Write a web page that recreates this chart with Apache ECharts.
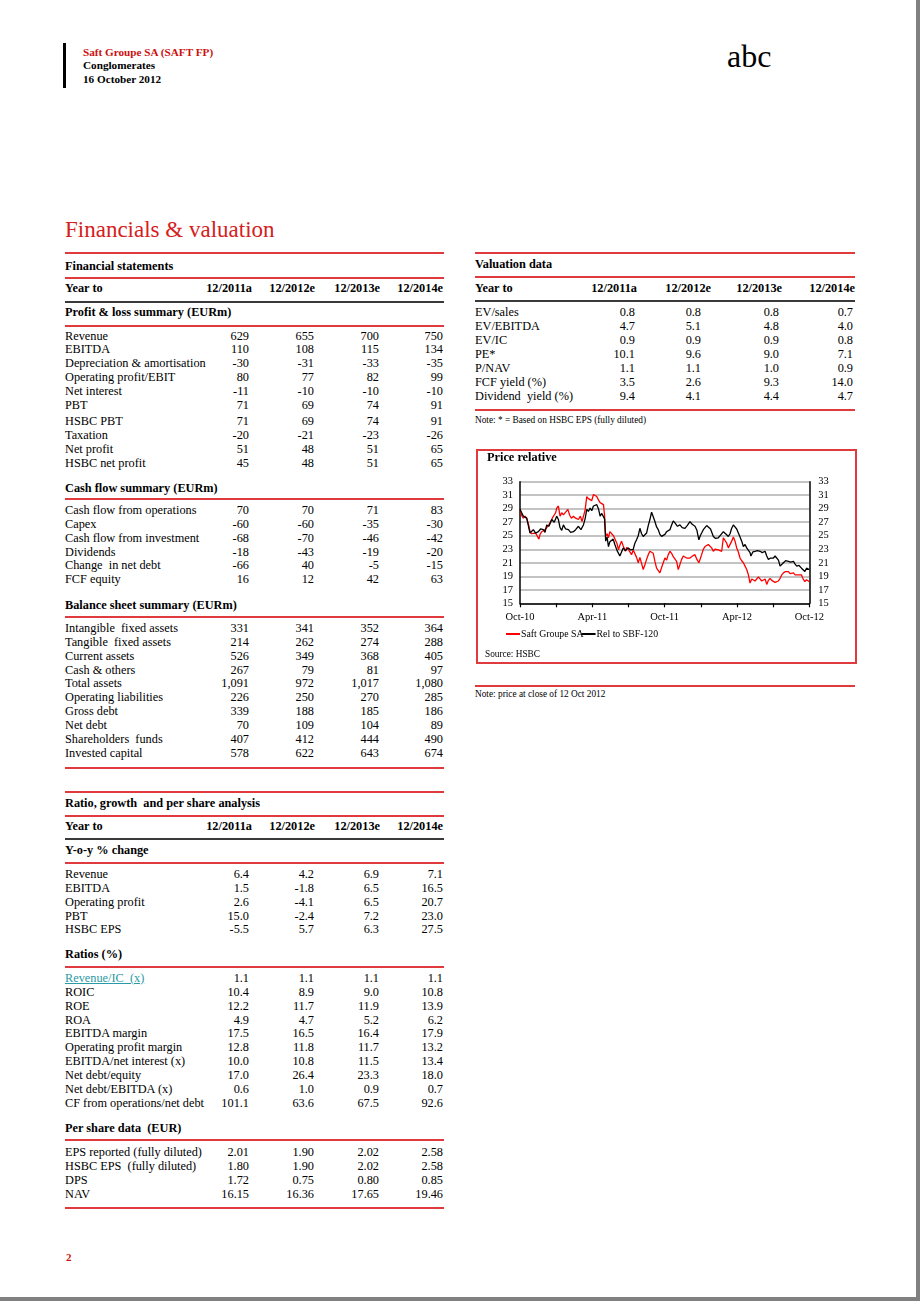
<!DOCTYPE html>
<html>
<head>
<meta charset="utf-8">
<script src="https://cdn.jsdelivr.net/npm/echarts@6/dist/echarts.min.js"></script>
<style>
  html, body { margin: 0; padding: 0; background: #fff; }
  #page { position: relative; width: 920px; height: 1301px; overflow: hidden; background: #fff;
          font-family: "Liberation Serif", "Times New Roman", serif; color: #000; }
  .t { position: absolute; white-space: pre; }
  .r { text-align: right; }
  .hl { position: absolute; }
  #priceBox { position: absolute; left: 476px; top: 449px; width: 377px; height: 211px; border: 2px solid #e03a3e; }
  #myCharts { position: absolute; left: 477px; top: 450px; width: 379px; height: 212px; }
</style>
</head>
<body>
<div id="page">
  <div id="priceBox"></div>
  <div id="myCharts"></div>
</div>
<script>
// price relative chart data: [week since Oct-10, value]
const tickLabels = ['Oct-10', 'Apr-11', 'Oct-11', 'Apr-12', 'Oct-12'];
const seriesNames = ['Saft Groupe SA', 'Rel to SBF-120'];
const saftPrice = [
  [0,28.9],[0.6,28.0],[1.2,27.6],[1.8,27.9],[2.4,27.6],[3.0,26.8],[3.6,25.6],[4.2,25.3],[4.8,25.1],[5.6,25.4],
  [6.0,25.6],[6.8,24.5],[7.2,25.2],[7.8,25.6],[8.4,25.7],[9.0,25.9],[9.6,26.2],[10.2,26.5],[10.8,26.9],[11.6,27.6],
  [12.3,27.4],[12.8,28.4],[13.2,29.1],[13.8,29.4],[14.4,27.9],[15.0,28.4],[15.6,28.1],[16.4,28.5],[17.2,28.9],[17.9,28.0],
  [18.5,27.6],[19.2,27.9],[20.0,27.6],[21.0,27.4],[21.7,27.9],[22.3,27.1],[22.8,27.1],[23.4,28.8],[24.0,30.8],[24.6,30.5],
  [25.2,30.6],[25.8,30.2],[26.4,31.1],[27.0,31.3],[27.6,30.8],[28.2,30.3],[28.8,29.9],[29.4,29.8],[30.0,29.6],[30.4,28.0],
  [30.8,24.9],[31.3,25.3],[31.8,24.7],[32.3,25.6],[33.0,25.4],[33.6,25.0],[34.1,24.9],[34.9,23.8],[35.4,22.9],[35.9,23.6],
  [36.5,24.2],[37.1,23.5],[37.9,22.7],[38.4,23.3],[38.9,23.2],[39.5,22.6],[40.1,22.2],[40.7,22.9],[41.3,22.9],[41.9,21.8],
  [42.5,21.0],[43.1,21.8],[43.7,22.0],[44.3,20.0],[44.9,20.7],[45.5,21.5],[46.1,22.2],[46.7,22.7],[47.3,22.6],[47.9,22.4],
  [48.5,21.2],[49.1,20.2],[49.7,20.0],[50.3,19.5],[50.9,20.3],[51.5,21.0],[52.1,21.7],[52.7,21.4],[53.3,22.2],[53.9,22.7],
  [54.5,22.4],[55.1,21.9],[55.7,21.7],[56.3,21.2],[56.9,20.0],[57.5,20.1],[58.1,21.5],[58.7,22.0],[59.3,21.9],[59.9,21.7],
  [60.5,21.8],[61.1,21.7],[62.0,22.0],[62.9,22.2],[63.6,21.5],[64.3,21.0],[64.8,21.6],[65.3,22.2],[65.9,23.0],[66.5,23.4],
  [67.1,23.6],[67.7,23.7],[68.3,23.9],[68.9,23.2],[69.5,22.7],[70.1,23.0],[70.7,22.8],[71.3,22.9],[71.9,22.8],[72.5,22.7],
  [73.1,24.7],[73.7,24.3],[74.3,23.9],[74.9,23.2],[75.5,23.0],[76.1,24.2],[76.7,24.8],[77.3,24.2],[77.9,23.2],[78.5,22.6],
  [79.1,21.7],[79.7,21.3],[80.3,21.0],[80.9,20.5],[81.5,20.0],[82.1,19.2],[82.7,18.0],[83.3,18.6],[83.9,18.7],[84.5,18.3],
  [85.1,18.5],[85.7,18.9],[86.3,18.7],[86.9,18.3],[87.5,18.5],[88.1,18.6],[88.7,17.8],[89.3,18.4],[89.9,18.7],[90.5,18.4],
  [91.1,18.5],[91.7,18.1],[92.3,18.0],[92.9,18.3],[93.5,18.7],[94.1,19.2],[94.7,19.5],[95.5,19.7],[96.5,19.7],[97.1,19.4],
  [97.7,19.5],[98.3,19.5],[98.9,19.2],[99.5,19.3],[100.1,19.2],[100.7,19.0],[101.2,19.2],[101.8,18.6],[102.4,18.2],[103.0,18.5],
  [103.6,18.4],[104,18.2]
];
const relPrice = [
  [0,28.9],[0.6,28.4],[1.2,27.9],[1.8,27.7],[2.4,27.6],[3.0,26.5],[3.6,25.4],[4.2,25.2],[4.8,25.9],[5.6,25.4],
  [6.6,25.6],[7.4,26.0],[8.4,25.9],[9.0,25.5],[9.6,26.6],[10.4,26.4],[11.4,27.4],[12.3,27.0],[13.2,27.9],[13.8,27.4],
  [14.4,26.2],[15.0,25.8],[15.6,26.6],[16.4,26.0],[17.4,25.9],[18.2,25.5],[19.2,25.6],[20.0,25.9],[21.0,26.4],[21.9,25.9],
  [22.8,26.6],[23.4,27.5],[24.0,28.9],[24.6,28.6],[25.2,29.1],[25.8,28.7],[26.4,29.4],[27.0,29.2],[27.6,29.6],[28.2,29.0],
  [28.8,27.9],[29.4,28.3],[30.0,28.4],[30.4,27.5],[30.8,24.2],[31.3,24.8],[31.8,23.4],[32.3,24.1],[33.0,23.9],[33.5,24.5],
  [34.1,23.7],[34.9,22.8],[35.9,22.0],[36.5,22.6],[37.1,23.2],[37.9,22.8],[38.9,23.2],[39.8,22.9],[40.7,23.0],[41.3,23.9],
  [41.9,24.4],[42.5,25.0],[43.1,26.1],[43.7,25.3],[44.3,24.9],[44.9,25.0],[45.5,25.4],[46.1,26.5],[46.7,27.4],[47.3,28.5],
  [47.9,27.8],[48.5,27.1],[49.1,26.3],[49.7,25.9],[50.3,25.2],[50.9,24.9],[51.5,25.1],[52.1,25.2],[52.7,25.6],[53.3,25.4],
  [53.9,25.9],[54.5,26.6],[55.1,27.2],[55.7,26.9],[56.6,26.4],[57.5,26.6],[58.3,26.2],[59.3,26.1],[60.1,26.5],[61.1,27.1],
  [61.9,26.7],[62.9,26.4],[63.6,25.8],[64.3,24.4],[64.8,25.0],[65.3,25.4],[65.9,25.9],[66.5,26.1],[67.1,26.5],[67.7,26.4],
  [68.5,26.0],[69.5,24.9],[70.3,24.6],[71.3,24.7],[72.1,25.1],[73.1,25.6],[73.9,25.3],[74.9,24.9],[75.5,25.3],[76.1,26.1],
  [76.7,26.6],[77.3,26.4],[77.9,26.0],[78.5,25.4],[79.1,24.8],[79.7,24.2],[80.3,23.4],[80.9,23.7],[81.5,23.2],[82.1,23.4],
  [82.7,22.5],[83.0,22.0],[83.7,22.6],[84.5,22.7],[85.4,22.8],[86.3,22.7],[87.1,22.5],[88.1,22.7],[88.7,22.0],[89.3,21.5],
  [90.1,21.7],[91.1,21.7],[91.7,22.0],[92.3,22.2],[92.9,21.4],[93.5,20.5],[94.1,20.7],[94.7,21.0],[95.5,21.3],[96.5,21.2],
  [97.3,21.1],[98.3,21.2],[98.9,20.8],[99.5,20.5],[100.3,20.6],[101.2,20.2],[101.8,20.1],[102.4,19.7],[103.0,20.2],[103.6,20.4],
  [104,20.0]
];

// tables
const years = ['12/2011a', '12/2012e', '12/2013e', '12/2014e'];
const plRowsA = [
  ['Revenue', '629', '655', '700', '750'],
  ['EBITDA', '110', '108', '115', '134'],
  ['Depreciation & amortisation', '-30', '-31', '-33', '-35'],
  ['Operating profit/EBIT', '80', '77', '82', '99'],
  ['Net interest', '-11', '-10', '-10', '-10'],
  ['PBT', '71', '69', '74', '91']
];
const plRowsB = [
  ['HSBC PBT', '71', '69', '74', '91'],
  ['Taxation', '-20', '-21', '-23', '-26'],
  ['Net profit', '51', '48', '51', '65'],
  ['HSBC net profit', '45', '48', '51', '65']
];
const cfRows = [
  ['Cash flow from operations', '70', '70', '71', '83'],
  ['Capex', '-60', '-60', '-35', '-30'],
  ['Cash flow from investment', '-68', '-70', '-46', '-42'],
  ['Dividends', '-18', '-43', '-19', '-20'],
  ['Change  in net debt', '-66', '40', '-5', '-15'],
  ['FCF equity', '16', '12', '42', '63']
];
const bsRows = [
  ['Intangible  fixed assets', '331', '341', '352', '364'],
  ['Tangible  fixed assets', '214', '262', '274', '288'],
  ['Current assets', '526', '349', '368', '405'],
  ['Cash & others', '267', '79', '81', '97'],
  ['Total assets', '1,091', '972', '1,017', '1,080'],
  ['Operating liabilities', '226', '250', '270', '285'],
  ['Gross debt', '339', '188', '185', '186'],
  ['Net debt', '70', '109', '104', '89'],
  ['Shareholders  funds', '407', '412', '444', '490'],
  ['Invested capital', '578', '622', '643', '674']
];
const yoyRows = [
  ['Revenue', '6.4', '4.2', '6.9', '7.1'],
  ['EBITDA', '1.5', '-1.8', '6.5', '16.5'],
  ['Operating profit', '2.6', '-4.1', '6.5', '20.7'],
  ['PBT', '15.0', '-2.4', '7.2', '23.0'],
  ['HSBC EPS', '-5.5', '5.7', '6.3', '27.5']
];
const ratioRows = [
  ['Revenue/IC  (x)', '1.1', '1.1', '1.1', '1.1'],
  ['ROIC', '10.4', '8.9', '9.0', '10.8'],
  ['ROE', '12.2', '11.7', '11.9', '13.9'],
  ['ROA', '4.9', '4.7', '5.2', '6.2'],
  ['EBITDA margin', '17.5', '16.5', '16.4', '17.9'],
  ['Operating profit margin', '12.8', '11.8', '11.7', '13.2'],
  ['EBITDA/net interest (x)', '10.0', '10.8', '11.5', '13.4'],
  ['Net debt/equity', '17.0', '26.4', '23.3', '18.0'],
  ['Net debt/EBITDA (x)', '0.6', '1.0', '0.9', '0.7'],
  ['CF from operations/net debt', '101.1', '63.6', '67.5', '92.6']
];
const perShareRows = [
  ['EPS reported (fully diluted)', '2.01', '1.90', '2.02', '2.58'],
  ['HSBC EPS  (fully diluted)', '1.80', '1.90', '2.02', '2.58'],
  ['DPS', '1.72', '0.75', '0.80', '0.85'],
  ['NAV', '16.15', '16.36', '17.65', '19.46']
];
const valRows = [
  ['EV/sales', '0.8', '0.8', '0.8', '0.7'],
  ['EV/EBITDA', '4.7', '5.1', '4.8', '4.0'],
  ['EV/IC', '0.9', '0.9', '0.9', '0.8'],
  ['PE*', '10.1', '9.6', '9.0', '7.1'],
  ['P/NAV', '1.1', '1.1', '1.0', '0.9'],
  ['FCF yield (%)', '3.5', '2.6', '9.3', '14.0'],
  ['Dividend  yield (%)', '9.4', '4.1', '4.4', '4.7']
];

const RED = '#e03a3e';
const DARK = '#3a3a3a';
const FS = 12.3;
const page = document.getElementById('page');

function text(str, x, y, o) {
  o = o || {};
  const fs = o.size || FS;
  const d = document.createElement('div');
  d.className = 't';
  d.textContent = str;
  d.style.fontSize = fs + 'px';
  d.style.lineHeight = fs + 'px';
  d.style.top = (y - fs / 2) + 'px';
  if (o.right) {
    d.className = 't r';
    d.style.left = (x - 200) + 'px';
    d.style.width = '200px';
  } else {
    d.style.left = x + 'px';
  }
  if (o.bold) d.style.fontWeight = 'bold';
  if (o.color) d.style.color = o.color;
  if (o.underline) d.style.textDecoration = 'underline';
  if (o.ls) d.style.letterSpacing = o.ls + 'px';
  page.appendChild(d);
}
function hline(x, y, w, color, h) {
  h = h || 2;
  const d = document.createElement('div');
  d.className = 'hl';
  d.style.left = x + 'px';
  d.style.top = (y - h / 2) + 'px';
  d.style.width = w + 'px';
  d.style.height = h + 'px';
  d.style.background = color;
  page.appendChild(d);
}
function rows(list, x0, cols, y0) {
  list.forEach(function (r, i) {
    const y = y0 + i * 13.9;
    const link = r[0].indexOf('Revenue/IC') === 0;
    text(r[0], x0, y, link ? { color: '#2a9aa6', underline: true } : {});
    for (let c = 1; c < r.length; c++) text(r[c], cols[c - 1], y, { right: true });
  });
}
function header(x0, cols, y) {
  text('Year to', x0, y, { bold: true });
  years.forEach(function (v, i) { text(v, cols[i], y, { bold: true, right: true }); });
}

// page header
const bar = document.createElement('div');
bar.className = 'hl';
bar.style.cssText = 'left:63px;top:43px;width:3px;height:45px;background:#000;';
page.appendChild(bar);
text('Saft Groupe SA (SAFT FP)', 83, 52.7, { size: 11.2, bold: true, color: '#cc1010' });
text('Conglomerates', 83, 66, { size: 11.2, bold: true });
text('16 October 2012', 83, 80, { size: 11.2, bold: true });
text('abc', 727, 56, { size: 32 });
text('Financials & valuation', 65, 229.5, { size: 23, color: '#d42020' });

// left column
const lv = [249, 314, 379, 443];
const lh = [252, 315, 380, 443];
hline(65, 253.3, 379, RED);
text('Financial statements', 65, 266.5, { bold: true });
hline(65, 277.7, 379, RED);
header(65, lh, 288);
hline(65, 301.5, 379, DARK);
text('Profit & loss summary (EURm)', 65, 312.3, { bold: true });
hline(65, 325.5, 379, RED);
rows(plRowsA, 65, lv, 335.7);
rows(plRowsB, 65, lv, 421);
text('Cash flow summary (EURm)', 65, 488, { bold: true });
hline(65, 499.3, 379, RED);
rows(cfRows, 65, lv, 510);
text('Balance sheet summary (EURm)', 65, 605, { bold: true });
hline(65, 617, 379, RED);
rows(bsRows, 65, lv, 628);
hline(65, 768, 379, RED);

hline(65, 791.5, 379, RED);
text('Ratio, growth  and per share analysis', 65, 803, { bold: true });
hline(65, 816, 379, RED);
header(65, lh, 826);
hline(65, 839, 379, DARK);
text('Y-o-y % change', 65, 850, { bold: true });
hline(65, 863, 379, RED);
rows(yoyRows, 65, lv, 874);
text('Ratios (%)', 65, 954, { bold: true });
hline(65, 966.5, 379, RED);
rows(ratioRows, 65, lv, 978);
text('Per share data  (EUR)', 65, 1128, { bold: true });
hline(65, 1140, 379, RED);
rows(perShareRows, 65, lv, 1152.3);
hline(65, 1208, 379, RED);
text('2', 66, 1257, { size: 11, bold: true, color: '#cc1010' });

// right column
const rv = [635, 701, 779, 853];
const rh = [637, 711, 782, 855];
hline(475, 253.3, 380, RED);
text('Valuation data', 475, 264.5, { bold: true });
hline(475, 277.3, 380, RED);
header(475, rh, 288.3);
hline(475, 301, 380, DARK);
rows(valRows, 475, rv, 312.3);
hline(475, 409.5, 380, RED);
text('Note: * = Based on HSBC EPS (fully diluted)', 475, 420.5, { size: 9.3 });
hline(475, 686, 380, RED);
text('Note: price at close of 12 Oct 2012', 475, 694.3, { size: 9.3 });

// page frame edge
const edgeR = document.createElement('div');
edgeR.className = 'hl';
edgeR.style.cssText = 'left:916px;top:0;width:4px;height:1301px;background:#808080;';
page.appendChild(edgeR);
const edgeB = document.createElement('div');
edgeB.className = 'hl';
edgeB.style.cssText = 'left:0;top:1297px;width:920px;height:4px;background:#808080;';
page.appendChild(edgeB);

// chart
const chart = echarts.init(document.getElementById('myCharts'));
const FONT = 'Liberation Serif';
const yAxisBase = {
  type: 'value', min: 15, max: 33, interval: 2,
  axisLine: { show: true, lineStyle: { color: '#000', width: 1.5 } },
  axisTick: { show: false },
  axisLabel: { color: '#000', fontSize: 10.5, fontFamily: FONT }
};
chart.setOption({
  animation: false,
  textStyle: { fontFamily: FONT },
  title: {
    text: 'Price relative', left: 5, top: -3,
    textStyle: { fontSize: 12.3, fontWeight: 'bold', color: '#000', fontFamily: FONT }
  },
  legend: {
    data: seriesNames, left: 24, top: 174, icon: 'rect', itemWidth: 14, itemHeight: 2, itemGap: -2,
    textStyle: { fontSize: 9.8, color: '#000', fontFamily: FONT, padding: [0, 0, 0, -4] }
  },
  graphic: [{
    type: 'text', left: 8, top: 200,
    style: { text: 'Source: HSBC', fontSize: 9.3, fontFamily: FONT, fill: '#000' }
  }],
  grid: { left: 43, top: 31.7, width: 289.3, height: 121.6 },
  xAxis: {
    type: 'value', min: 0, max: 104, interval: 13,
    axisLine: { lineStyle: { color: '#000', width: 1.5 } },
    axisTick: { show: true, length: 4, lineStyle: { color: '#000', width: 1.2 } },
    splitLine: { show: false },
    axisLabel: {
      color: '#000', fontSize: 10.5, fontFamily: FONT, margin: 8, showMinLabel: true, showMaxLabel: true,
      formatter: function (v) { return v % 26 === 0 ? tickLabels[v / 26] : ''; }
    }
  },
  yAxis: [
    Object.assign({}, yAxisBase, {
      position: 'left',
      axisLabel: Object.assign({}, yAxisBase.axisLabel, { margin: 7 }),
      splitLine: { show: true, lineStyle: { color: '#c3c3c3', width: 2 } }
    }),
    Object.assign({}, yAxisBase, {
      position: 'right',
      axisLabel: Object.assign({}, yAxisBase.axisLabel, { margin: 9 }),
      splitLine: { show: false }
    })
  ],
  series: [
    { name: seriesNames[0], type: 'line', data: saftPrice, showSymbol: false, symbol: 'none',
      itemStyle: { color: '#ff0000' }, lineStyle: { color: '#ff0000', width: 1.3 } },
    { name: seriesNames[1], type: 'line', data: relPrice, showSymbol: false, symbol: 'none',
      itemStyle: { color: '#000' }, lineStyle: { color: '#000', width: 1.3 } }
  ]
});
</script>
</body>
</html>
